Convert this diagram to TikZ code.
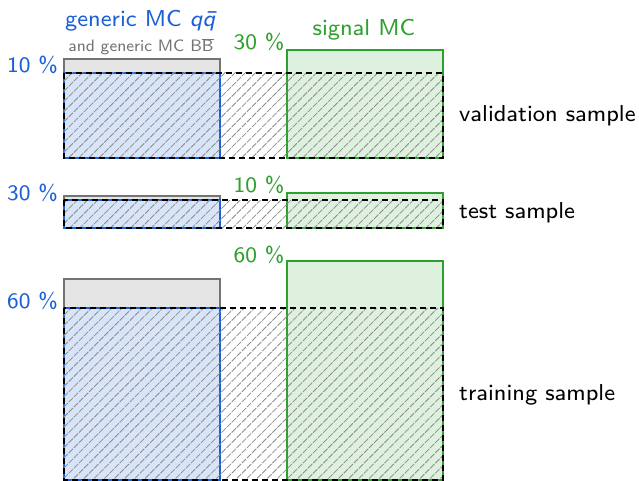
\documentclass[tikz,border=0pt]{standalone}
\usepackage{fontspec}
\setsansfont{lmsans8-regular.otf}[ItalicFont=lmsans8-oblique.otf]
\usetikzlibrary{patterns.meta}

\definecolor{mcblue}{RGB}{28,96,214}
\definecolor{mcgreen}{RGB}{46,160,46}

\begin{document}
\begin{tikzpicture}[
    x=1pt, y=-1pt,
    font=\sffamily\fontsize{23}{27}\selectfont,
    generic-box/.style={draw=black!55, fill=black!10, line width=1.2pt},
    qq-box/.style={draw=mcblue, fill=mcblue!17, line width=1.2pt},
    signal-box/.style={draw=mcgreen, fill=mcgreen!16, line width=1.2pt},
    split-box/.style={draw=black, dashed, dash pattern=on 6pt off 4pt, line width=1.2pt,
      pattern={Lines[angle=45, distance=7.2pt, line width=0.8pt]}, pattern color=black!45},
    pct/.style={inner sep=0pt, font=\sffamily\fontsize{22}{26}\selectfont},
    pct-qq/.style={pct, text=mcblue, anchor=base east},
    pct-sig/.style={pct, text=mcgreen, anchor=base},
    sample/.style={anchor=base west, inner sep=0pt}
  ]
  \useasboundingbox (0,0) rectangle (639,481);

  % column headers
  \node[text=mcblue, anchor=base, inner sep=0pt] (hqq) at (141,27) {generic MC \textit{q\={q}}};
  \node[text=black!55, anchor=base, inner sep=0pt, font=\sffamily\fontsize{16.5}{20}\selectfont] (hbb) at (141,52) {and generic MC B$\overline{\mbox{B}}$};
  \node[text=mcgreen, anchor=base, inner sep=0pt] (hsig) at (364,36) {signal MC};

  % validation sample
  \draw[generic-box] (64,59) rectangle (220,158);
  \draw[qq-box] (64,73) rectangle (220,158);
  \draw[signal-box] (287,50) rectangle (443,158);
  \draw[split-box] (64,73) rectangle (443,158);
  \node[pct-qq] (val-qq) at (58,73) {10 \%};
  \node[pct-sig] (val-sig) at (259,50) {30 \%};
  \node[sample] (val) at (459,122) {validation sample};

  % test sample
  \draw[generic-box] (64,196) rectangle (220,228);
  \draw[qq-box] (64,200) rectangle (220,228);
  \draw[signal-box] (287,193) rectangle (443,228);
  \draw[split-box] (64,200) rectangle (443,228);
  \node[pct-qq] (test-qq) at (58,200) {30 \%};
  \node[pct-sig] (test-sig) at (259,192) {10 \%};
  \node[sample] (test) at (459,218) {test sample};

  % training sample
  \draw[generic-box] (64,279) rectangle (220,480);
  \draw[qq-box] (64,308) rectangle (220,480);
  \draw[signal-box] (287,261) rectangle (443,480);
  \draw[split-box] (64,308) rectangle (443,480);
  \node[pct-qq] (train-qq) at (58,308) {60 \%};
  \node[pct-sig] (train-sig) at (259,262) {60 \%};
  \node[sample] (train) at (459,400) {training sample};

\end{tikzpicture}
\end{document}
